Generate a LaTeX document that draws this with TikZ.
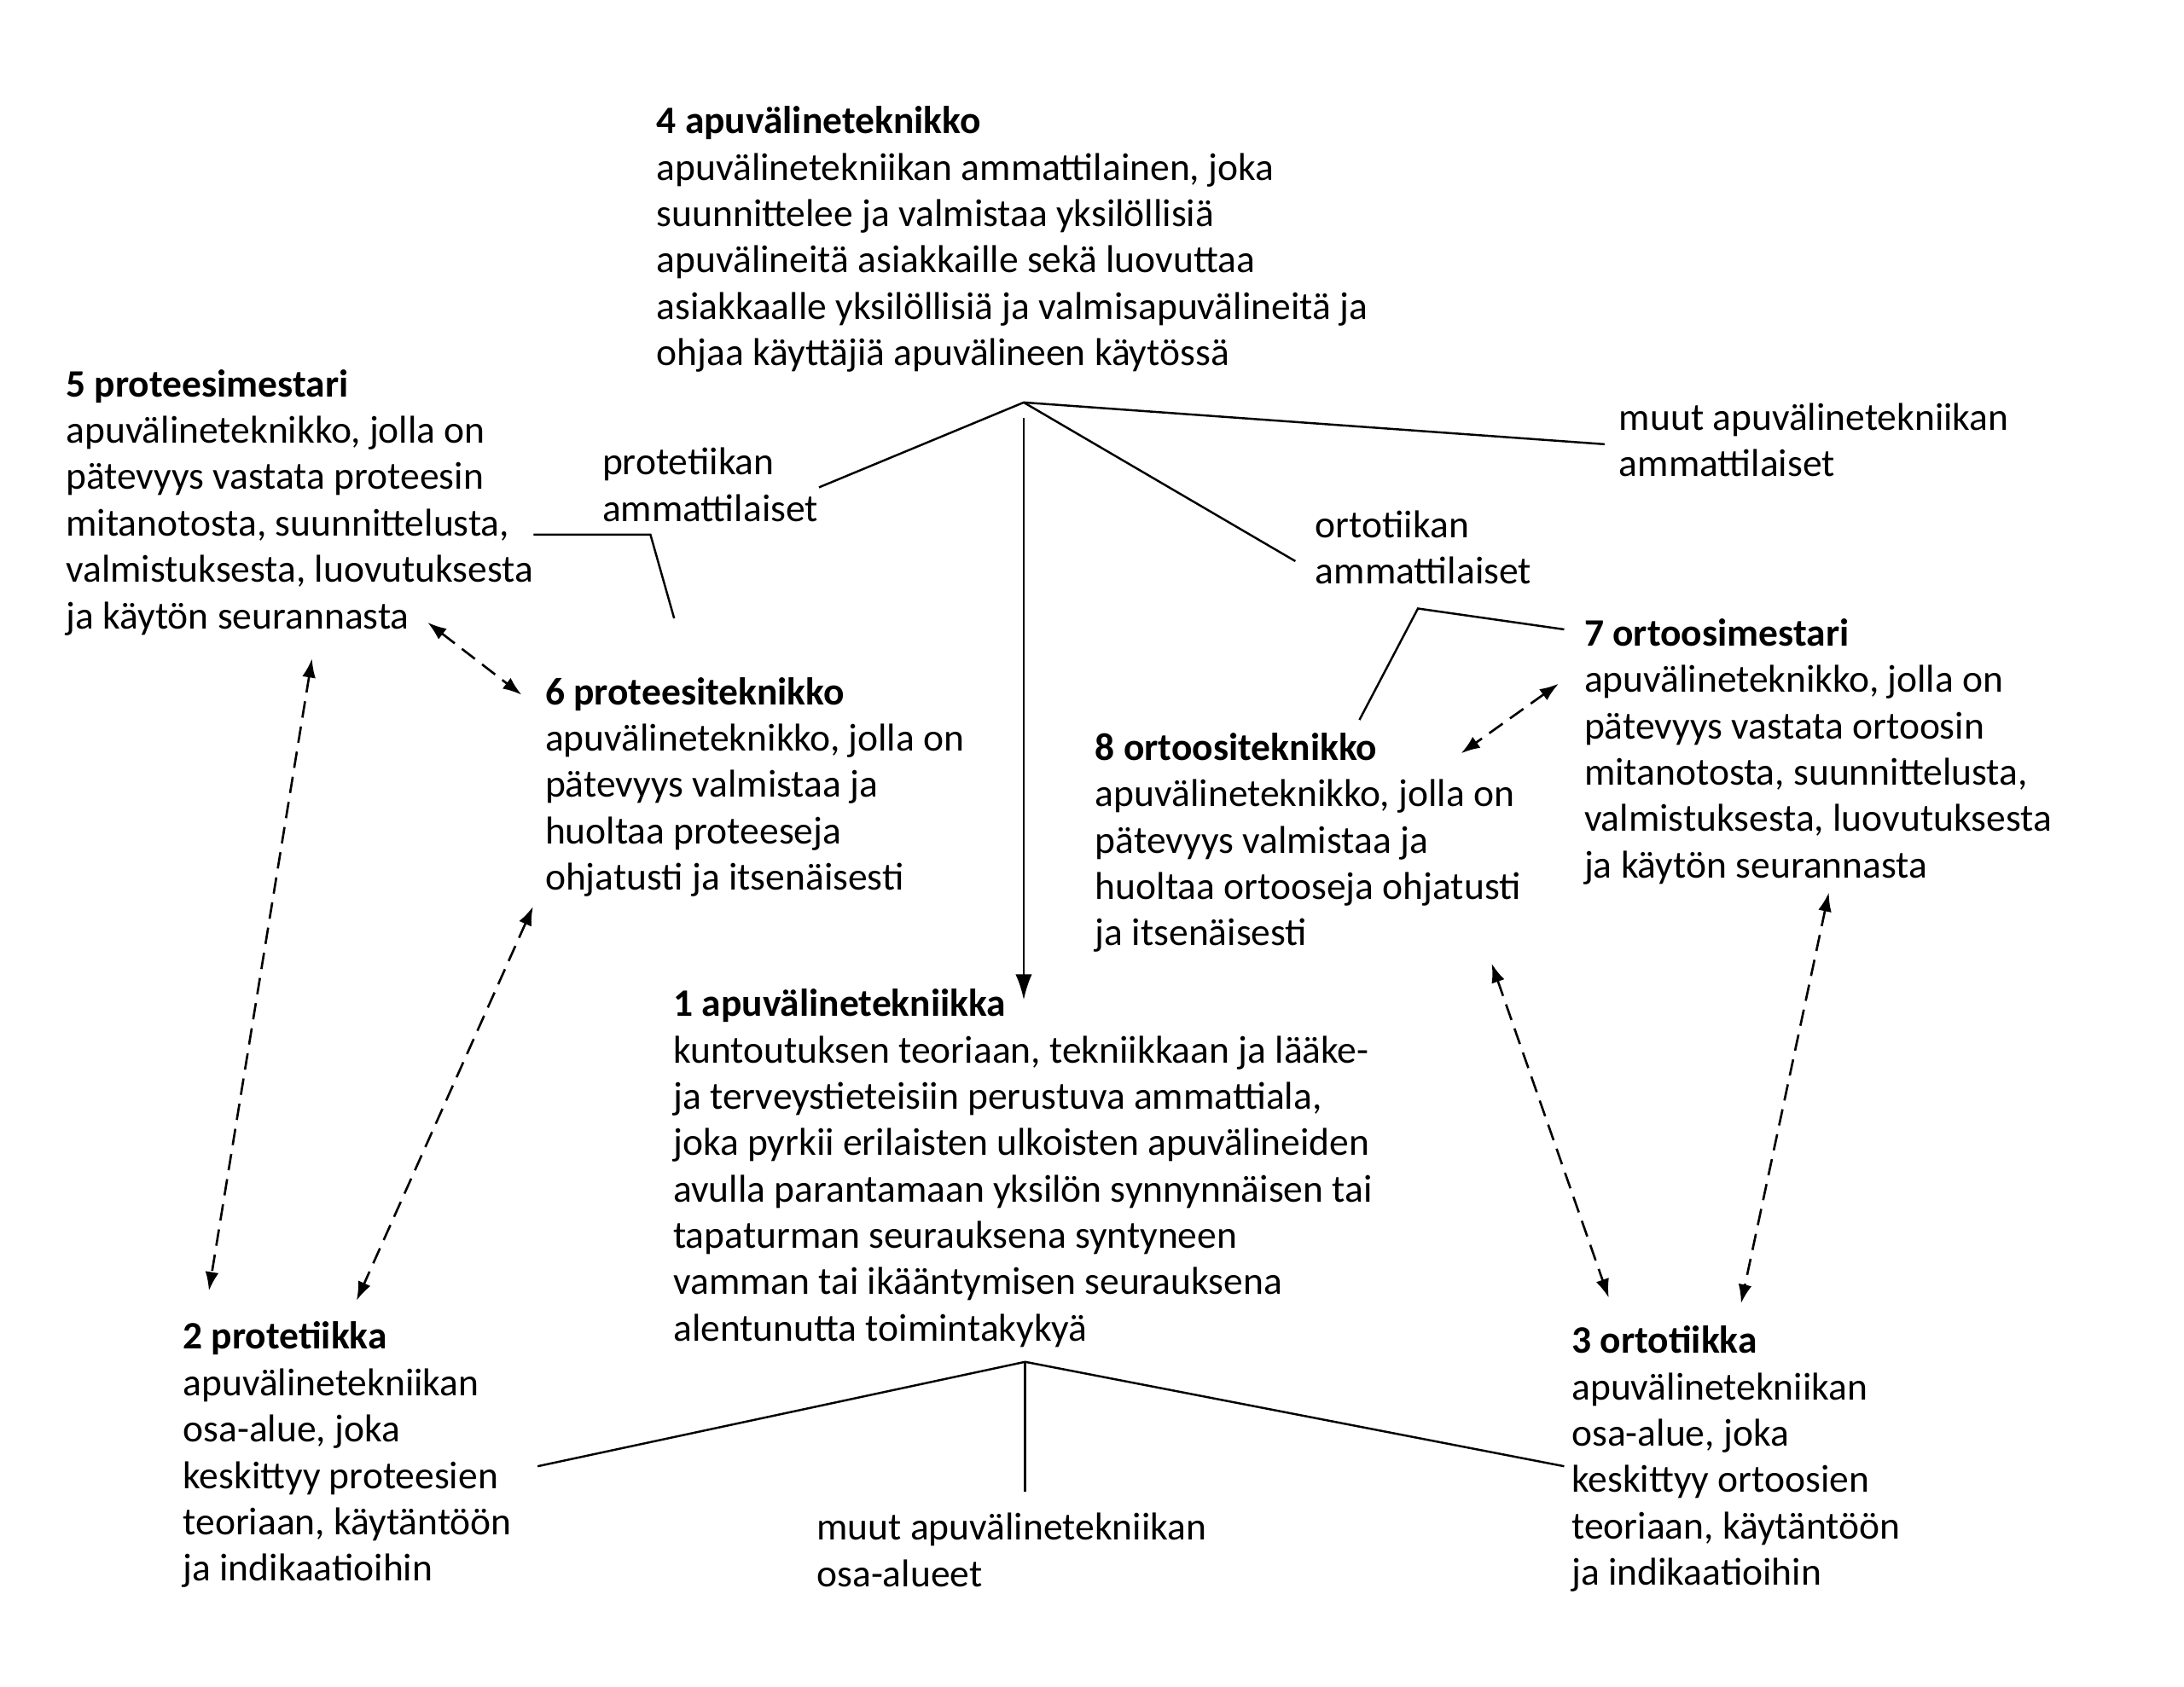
\documentclass[tikz,border=0pt]{standalone}
\usepackage{fontspec}
\setmainfont{Carlito}
\usetikzlibrary{arrows.meta}
\begin{document}
\begin{tikzpicture}[x=0.016327cm,y=-0.016327cm,
  txt/.style={anchor=base west,inner sep=0pt,align=left,yshift=-0.9pt,font=\fontsize{12.95}{15.47}\selectfont},
  link/.style={line width=0.7pt,line join=miter},
  rel/.style={line width=0.75pt,dash pattern=on 5.5pt off 3pt,{Latex[length=6.3pt,width=4.5pt]}-{Latex[length=6.3pt,width=4.5pt]}},
  downarrow/.style={line width=0.7pt,-{Latex[length=8.5pt,width=5.5pt]}}]
\useasboundingbox (0,0) rectangle (1568,1211.5);

% text blocks (anchor = baseline of last line)
\node[txt] (n4) at (471,260.5) {\textbf{4 apuvälineteknikko}\\apuvälinetekniikan ammattilainen, joka\\suunnittelee ja valmistaa yksilöllisiä\\apuvälineitä asiakkaille sekä luovuttaa\\asiakkaalle yksilöllisiä ja valmisapuvälineitä ja\\ohjaa käyttäjiä apuvälineen käytössä};
\node[txt] (n5) at (47,449.5) {\textbf{5 proteesimestari}\\apuvälineteknikko, jolla on\\pätevyys vastata proteesin\\mitanotosta, suunnittelusta,\\valmistuksesta, luovutuksesta\\ja käytön seurannasta};
\node[txt] (lp) at (432,372.3) {protetiikan\\ammattilaiset};
\node[txt] (lm) at (1162,340.3) {muut apuvälinetekniikan\\ammattilaiset};
\node[txt] (lo) at (944,417.3) {ortotiikan\\ammattilaiset};
\node[txt] (n7) at (1137,628.5) {\textbf{7 ortoosimestari}\\apuvälineteknikko, jolla on\\pätevyys vastata ortoosin\\mitanotosta, suunnittelusta,\\valmistuksesta, luovutuksesta\\ja käytön seurannasta};
\node[txt] (n6) at (391,637.2) {\textbf{6 proteesiteknikko}\\apuvälineteknikko, jolla on\\pätevyys valmistaa ja\\huoltaa proteeseja\\ohjatusti ja itsenäisesti};
\node[txt] (n8) at (786,677.2) {\textbf{8 ortoositeknikko}\\apuvälineteknikko, jolla on\\pätevyys valmistaa ja\\huoltaa ortooseja ohjatusti\\ja itsenäisesti};
\node[txt] (n1) at (483,961.1) {\textbf{1 apuvälinetekniikka}\\kuntoutuksen teoriaan, tekniikkaan ja lääke-\\ja terveystieteisiin perustuva ammattiala,\\joka pyrkii erilaisten ulkoisten apuvälineiden\\avulla parantamaan yksilön synnynnäisen tai\\tapaturman seurauksena syntyneen\\vamman tai ikääntymisen seurauksena\\alentunutta toimintakykyä};
\node[txt] (n2) at (131,1133.5) {\textbf{2 protetiikka}\\apuvälinetekniikan\\osa-alue, joka\\keskittyy proteesien\\teoriaan, käytäntöön\\ja indikaatioihin};
\node[txt] (n3) at (1128,1136.5) {\textbf{3 ortotiikka}\\apuvälinetekniikan\\osa-alue, joka\\keskittyy ortoosien\\teoriaan, käytäntöön\\ja indikaatioihin};
\node[txt] (lb) at (586,1137.3) {muut apuvälinetekniikan\\osa-alueet};

% coordinates
\coordinate (h4) at (735,289);
\coordinate (h4p) at (588,350);
\coordinate (h4m) at (1152,319);
\coordinate (h4o) at (930,403);
\coordinate (v4) at (735,300);
\coordinate (v1) at (735,718);
\coordinate (b5a) at (383,384);
\coordinate (b5b) at (467,384);
\coordinate (b5c) at (484,444);
\coordinate (b8a) at (976,517);
\coordinate (b8b) at (1018,437);
\coordinate (b8c) at (1123,452);
\coordinate (h1) at (736,978);
\coordinate (h1l) at (386,1053);
\coordinate (h1r) at (1123,1053);
\coordinate (h1d) at (736,1071);

\coordinate (a56s) at (307,447);
\coordinate (a56e) at (374.5,499);
\coordinate (a52s) at (224,473);
\coordinate (a52e) at (150,927);
\coordinate (a62s) at (382.7,651);
\coordinate (a62e) at (256,934);
\coordinate (a78s) at (1119,491);
\coordinate (a78e) at (1049,541);
\coordinate (a83s) at (1071,692);
\coordinate (a83e) at (1155,932);
\coordinate (a73s) at (1313,641);
\coordinate (a73e) at (1250,936);

% solid connectors
\draw[link] (h4p) -- (h4) -- (h4m);
\draw[link] (h4) -- (h4o);
\draw[downarrow] (v4) -- (v1);
\draw[link] (b5a) -- (b5b) -- (b5c);
\draw[link] (b8a) -- (b8b) -- (b8c);
\draw[link] (h1l) -- (h1) -- (h1r);
\draw[link] (h1) -- (h1d);

% dashed relations
\draw[rel] (a56s) -- (a56e);
\draw[rel] (a52s) -- (a52e);
\draw[rel] (a62s) -- (a62e);
\draw[rel] (a78s) -- (a78e);
\draw[rel] (a83s) -- (a83e);
\draw[rel] (a73s) -- (a73e);
\end{tikzpicture}
\end{document}
